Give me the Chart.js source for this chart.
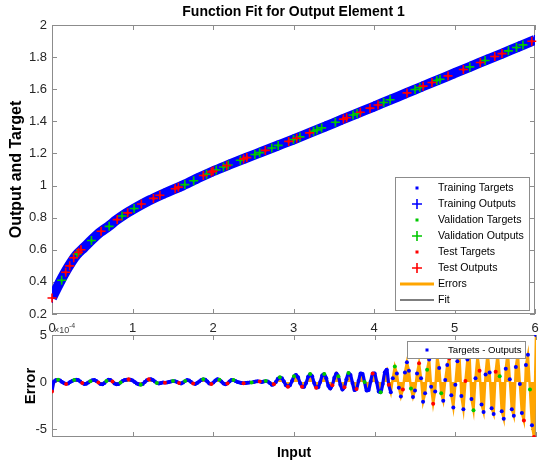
<!DOCTYPE html>
<html>
<head>
<meta charset="utf-8">
<script src="https://cdn.jsdelivr.net/npm/chart.js@4.4.0/dist/chart.umd.min.js"></script>
<style>
  html, body { margin: 0; padding: 0; background: #fff; }
  #wrap { position: relative; width: 542px; height: 462px; overflow: hidden; }
  #fitBox { position: absolute; left: 0; top: 0; }
  #errBox { position: absolute; left: 0; top: 328px; }
</style>
</head>
<body>
<div id="wrap">
  <div id="errBox"><canvas id="errChart" width="542" height="134"></canvas></div>
  <div id="fitBox"><canvas id="fitChart" width="542" height="342"></canvas></div>
</div>
<script>
// axis ticks
const xTicks = [0, 1, 2, 3, 4, 5, 6];
const fitTicks = [0.2, 0.4, 0.6, 0.8, 1, 1.2, 1.4, 1.6, 1.8, 2];
const errTicks = [-5, 0, 5];

// fitted curve
const fitX = [0, 0.1, 0.2, 0.3, 0.4, 0.5, 0.6, 0.7, 0.8, 0.9, 1.0, 1.2, 1.4, 1.6, 1.8, 2.0, 2.2, 2.4, 2.6, 2.8,
              3.0, 3.2, 3.4, 3.6, 3.8, 4.0, 4.2, 4.4, 4.6, 4.8, 5.0, 5.2, 5.4, 5.6, 5.8, 6.0];
const fitY = [0.30, 0.40, 0.49, 0.565, 0.615, 0.665, 0.71, 0.745, 0.785, 0.82, 0.85, 0.905, 0.952, 0.995, 1.043, 1.089, 1.13, 1.17, 1.209, 1.248,
              1.287, 1.328, 1.369, 1.41, 1.451, 1.492, 1.534, 1.575, 1.617, 1.658, 1.70, 1.741, 1.783, 1.824, 1.866, 1.907];

// validation samples (green)
const valX = [0.12, 0.31, 0.49, 0.71, 0.87, 1.02, 1.65, 1.76, 1.92, 2.04, 2.13, 2.19, 2.34, 2.52, 2.58, 2.73, 2.81, 3.00,
              3.08, 3.25, 3.29, 3.35, 3.52, 3.74, 3.79, 4.12, 4.20, 4.51, 4.57, 4.78, 4.82, 5.19, 5.38, 5.67, 5.77, 5.85];
const valY = [0.41, 0.573, 0.658, 0.746, 0.81, 0.857, 1.006, 1.03, 1.07, 1.097, 1.116, 1.128, 1.158, 1.193, 1.205, 1.234, 1.25, 1.287,
              1.303, 1.338, 1.347, 1.359, 1.394, 1.439, 1.449, 1.517, 1.534, 1.598, 1.611, 1.654, 1.662, 1.739, 1.779, 1.839, 1.86, 1.876];

// test samples (red)
const testX = [0, 0.17, 0.22, 0.27, 0.33, 0.36, 0.61, 0.81, 0.94, 1.11, 1.26, 1.34, 1.53, 1.57, 1.88, 1.98, 2.00, 2.17, 2.38,
               2.42, 2.65, 2.94, 3.04, 3.20, 3.62, 3.66, 3.83, 3.95, 4.05, 4.41, 4.61, 4.72, 4.92, 5.11, 5.32, 5.50, 5.59, 5.96];
const testY = [0.30, 0.46, 0.50, 0.55, 0.585, 0.60, 0.715, 0.788, 0.83, 0.885, 0.92, 0.94, 0.98, 0.99, 1.063, 1.084, 1.09, 1.124, 1.166,
               1.174, 1.219, 1.275, 1.295, 1.328, 1.414, 1.422, 1.457, 1.482, 1.502, 1.577, 1.619, 1.642, 1.683, 1.723, 1.766, 1.804, 1.822, 1.899];

// errors (targets - outputs), one sample every 0.025 input units (x 1e-4)
const errStep = 0.025;
const errY = [
  -1.0, 0.05, 0.2, 0.25, 0.15, 0.0, -0.12, -0.2, -0.15, 0.0, 0.12, 0.2, 0.25, 0.2, 0.05, -0.1, -0.2, -0.18, -0.05, 0.08,
  0.18, 0.2, 0.1, -0.05, -0.2, -0.25, -0.1, 0.1, 0.25, 0.2, 0.05, -0.15, -0.25, -0.2, -0.05, 0.1, 0.2, 0.25, 0.28, 0.25,
  0.15, 0.0, -0.15, -0.25, -0.28, -0.2, 0.0, 0.18, 0.28, 0.3, 0.2, 0.05, -0.1, -0.15, -0.1, -0.05, -0.08, -0.05, 0.0, 0.05,
  0.1, 0.08, 0.0, -0.1, -0.15, -0.05, 0.1, 0.2, 0.15, 0.0, -0.15, -0.2, -0.1, 0.05, 0.2, 0.3, 0.25, 0.05, -0.15, -0.2,
  -0.05, 0.15, 0.3, 0.25, 0.05, -0.15, -0.25, -0.15, 0.05, 0.2, 0.2, 0.1, 0.0, -0.05, -0.1, -0.12, -0.1, -0.08, -0.05, -0.05,
  0.0, 0.05, 0.08, 0.05, 0.0, 0.05, 0.1, 0.05, -0.1, -0.3, -0.25, 0.0, 0.35, 0.5, 0.4, 0.05, -0.35, -0.5, -0.35, 0.1,
  0.6, 0.75, 0.5, -0.1, -0.5, -0.5, -0.1, 0.55, 0.85, 0.6, -0.1, -0.6, -0.55, 0.0, 0.7, 0.85, 0.4, -0.4, -0.7, -0.35,
  0.45, 0.9, 0.6, -0.3, -0.8, -0.55, 0.3, 0.95, 0.75, -0.1, -0.85, -0.75, 0.1, 0.9, 0.85, 0.0, -0.9, -0.85, 0.05, 0.9,
  0.9, 0.0, -1.0, -1.1, -0.2, 1.0, 1.3, -0.3, -1.1, 0.4, 1.65, 0.9, -0.6, -1.55, -0.8, 1.0, 2.1, 1.2, -0.7, -1.6,
  -0.9, 0.9, 2.0, 0.4, -2.1, -1.2, 1.3, 2.4, -0.5, -2.3, -1.0, 2.7, 1.5, -1.2, -2.0, 0.2, 1.8, 2.5, -1.4, -2.7,
  -0.3, 2.2, 2.9, -1.5, -2.9, 0.1, 2.4, 3.0, -1.8, -3.0, 0.4, 2.75, 1.2, -2.4, -3.2, 0.8, 3.1, 1.0, -2.8, -3.4,
  1.1, 3.0, 0.6, -3.1, -3.9, 1.4, 3.2, 0.3, -2.9, -3.6, 1.6, 3.0, -0.2, -3.3, -4.1, 1.8, 2.9, -0.8, -4.6, -5.85, 5.0
];
const valIdx = [3, 11, 19, 27, 34, 44, 52, 60, 66, 75, 83, 90, 99, 106, 113, 120, 128, 135, 142, 147, 155, 163,
                170, 178, 186, 193, 202, 209, 216, 222, 231, 237];
const testIdx = [0, 7, 15, 23, 30, 38, 48, 56, 63, 70, 79, 87, 95, 103, 110, 117, 124, 131, 139, 145, 151, 159,
                 167, 174, 182, 189, 197, 205, 212, 220, 226, 234, 239];
// up to this sample the errors are sampled densely enough to read as a continuous wave
const smoothEnd = 169;

const BLUE = '#0000ff', GREEN = '#00c800', RED = '#ff0000', ORANGE = '#ffa500';
const FONT = '"Liberation Sans", Arial, Helvetica, sans-serif';

Chart.defaults.font.family = FONT;
Chart.defaults.color = '#262626';
Chart.defaults.animation = false;

function pts(xs, ys) {
    return xs.map((x, i) => ({ x: x, y: ys[i] }));
}

// box round the axes with inward tick marks, like the original figure
const framePlugin = {
    id: 'frame',
    beforeDatasetsDraw(chart) {
        const { ctx, chartArea: a, scales } = chart;
        ctx.save();
        ctx.strokeStyle = '#8c8c8c';
        ctx.lineWidth = 1;
        ctx.strokeRect(a.left + 0.5, a.top + 0.5, a.right - a.left - 1, a.bottom - a.top - 1);
        ctx.beginPath();
        scales.x.ticks.forEach(t => {
            const px = Math.round(scales.x.getPixelForValue(t.value)) + 0.5;
            ctx.moveTo(px, a.bottom); ctx.lineTo(px, a.bottom - 5);
            ctx.moveTo(px, a.top); ctx.lineTo(px, a.top + 5);
        });
        scales.y.ticks.forEach(t => {
            const py = Math.round(scales.y.getPixelForValue(t.value)) + 0.5;
            ctx.moveTo(a.left, py); ctx.lineTo(a.left + 5, py);
            ctx.moveTo(a.right, py); ctx.lineTo(a.right - 5, py);
        });
        ctx.stroke();
        ctx.restore();
    }
};

// boxed legend drawn inside the plot
const boxLegendPlugin = {
    id: 'boxLegend',
    afterDraw(chart, args, opts) {
        if (!opts.items) return;
        const ctx = chart.ctx;
        const b = opts.box;
        ctx.save();
        ctx.fillStyle = '#fff';
        ctx.fillRect(b.x, b.y, b.w, b.h);
        ctx.strokeStyle = '#8c8c8c';
        ctx.lineWidth = 1;
        ctx.strokeRect(b.x + 0.5, b.y + 0.5, b.w, b.h);
        ctx.font = b.size + 'px ' + FONT;
        ctx.textBaseline = 'middle';
        opts.items.forEach((it, i) => {
            const y = b.first + i * b.step;
            const [kind, color, text] = it;
            ctx.fillStyle = color;
            ctx.strokeStyle = color;
            if (kind === 'dot') {
                ctx.fillRect(b.mark - 1.5, y - 1.5, 3, 3);
            } else if (kind === 'plus') {
                ctx.lineWidth = 1.6;
                ctx.beginPath();
                ctx.moveTo(b.mark - 5, y); ctx.lineTo(b.mark + 5, y);
                ctx.moveTo(b.mark, y - 5); ctx.lineTo(b.mark, y + 5);
                ctx.stroke();
            } else {
                ctx.lineWidth = kind === 'bar' ? 3 : 1.2;
                ctx.beginPath();
                ctx.moveTo(b.x + 5, y); ctx.lineTo(b.text - 4, y);
                ctx.stroke();
            }
            ctx.fillStyle = '#000';
            ctx.fillText(text, b.text, y);
        });
        ctx.restore();
    }
};

// exponent of the x axis
const exponentPlugin = {
    id: 'exponent',
    afterDraw(chart, args, opts) {
        if (!opts.show) return;
        const ctx = chart.ctx;
        ctx.save();
        ctx.fillStyle = '#404040';
        ctx.textBaseline = 'alphabetic';
        ctx.font = '9px ' + FONT;
        ctx.fillText('\u00d710', 54, 333);
        ctx.font = '7px ' + FONT;
        ctx.fillText('-4', 69, 328);
        ctx.restore();
    }
};

Chart.register(framePlugin, boxLegendPlugin, exponentPlugin);

// grid hidden, tick length only used as the gap between axis and labels
const gapGrid = n => ({ display: false, drawTicks: true, tickLength: n });
const tickFont = { size: 13, lineHeight: 14 / 13 };

// ---- top panel: function fit ----
new Chart(document.getElementById('fitChart'), {
    type: 'scatter',
    data: {
        datasets: [
            { label: 'Test Outputs', data: pts(testX, testY), pointStyle: 'cross', pointRadius: 4.5,
              borderColor: RED, borderWidth: 1.6, clip: false },
            { label: 'Validation Outputs', data: pts(valX, valY), pointStyle: 'cross', pointRadius: 4.5,
              borderColor: GREEN, borderWidth: 1.6, clip: false },
            { label: 'Test Targets', data: pts(testX, testY), pointRadius: 1.5, backgroundColor: RED, borderWidth: 0 },
            { label: 'Validation Targets', data: pts(valX, valY), pointRadius: 1.5, backgroundColor: GREEN, borderWidth: 0 },
            { label: 'Training Outputs', data: pts(fitX, fitY), pointStyle: 'cross', pointRadius: 5,
              borderColor: BLUE, borderWidth: 2 },
            { label: 'Training Targets', data: pts(fitX, fitY), showLine: true, borderColor: BLUE, borderWidth: 10,
              pointRadius: 0, cubicInterpolationMode: 'monotone' },
            { label: 'Fit', data: pts(fitX, fitY), showLine: true, borderColor: '#000', borderWidth: 1, pointRadius: 0 }
        ]
    },
    options: {
        responsive: false,
        events: [],
        layout: { padding: { left: 0, right: 6, top: 0, bottom: 0 } },
        scales: {
            x: {
                type: 'linear', min: 0, max: 6,
                afterBuildTicks: s => { s.ticks = xTicks.map(v => ({ value: v })); },
                afterFit: s => { s.height = 28; },
                grid: gapGrid(7),
                border: { display: false },
                ticks: { font: { size: 13 }, padding: 0, maxRotation: 0, callback: v => String(v) }
            },
            y: {
                type: 'linear', min: 0.2, max: 2,
                afterBuildTicks: s => { s.ticks = fitTicks.map(v => ({ value: v })); },
                afterFit: s => { s.width = 52; },
                grid: gapGrid(5),
                border: { display: false },
                ticks: { font: tickFont, padding: 0, callback: v => String(+v.toFixed(1)) },
                title: { display: true, text: 'Output and Target', color: '#000',
                         font: { size: 16, weight: 'bold' }, padding: { top: 7, bottom: 0 } }
            }
        },
        plugins: {
            legend: { display: false },
            tooltip: { enabled: false },
            title: { display: true, fullSize: false, text: 'Function Fit for Output Element 1', color: '#000',
                     font: { size: 14, weight: 'bold' }, padding: { top: 4, bottom: 4.2 } },
            boxLegend: {
                box: { x: 395, y: 177, w: 134, h: 133, first: 188, step: 16, mark: 417, text: 438, size: 10.6 },
                items: [
                    ['dot', BLUE, 'Training Targets'],
                    ['plus', BLUE, 'Training Outputs'],
                    ['dot', GREEN, 'Validation Targets'],
                    ['plus', GREEN, 'Validation Outputs'],
                    ['dot', RED, 'Test Targets'],
                    ['plus', RED, 'Test Outputs'],
                    ['bar', ORANGE, 'Errors'],
                    ['line', '#000', 'Fit']
                ]
            },
            exponent: { show: true }
        }
    }
});

// ---- bottom panel: errors ----
const errX = errY.map((_, i) => +(i * errStep).toFixed(3));
const inVal = new Set(valIdx);
const inTest = new Set(testIdx);
const errPts = errY.map((y, i) => ({ x: errX[i], y: y }));
const trainErr = errPts.filter((_, i) => !inVal.has(i) && !inTest.has(i));
const valErr = errPts.filter((_, i) => inVal.has(i));
const testErr = errPts.filter((_, i) => inTest.has(i));

new Chart(document.getElementById('errChart'), {
    type: 'scatter',
    data: {
        datasets: [
            { label: 'Test', data: testErr, pointRadius: 2, backgroundColor: RED, borderWidth: 0 },
            { label: 'Validation', data: valErr, pointRadius: 2, backgroundColor: GREEN, borderWidth: 0 },
            { label: 'Targets - Outputs', data: trainErr, pointRadius: 2, backgroundColor: BLUE, borderWidth: 0 },
            { label: 'Targets - Outputs (dense)', data: errPts.slice(0, smoothEnd), showLine: true, pointRadius: 0,
              borderColor: BLUE, borderWidth: 3.2, tension: 0.35 },
            { label: 'Errors', data: errPts, showLine: true, pointRadius: 0, fill: 'origin',
              backgroundColor: ORANGE, borderColor: ORANGE, borderWidth: 2.5 }
        ]
    },
    options: {
        responsive: false,
        events: [],
        layout: { padding: { left: 0, right: 6, top: 0, bottom: 0 } },
        scales: {
            x: {
                type: 'linear', min: 0, max: 6,
                afterBuildTicks: s => { s.ticks = xTicks.map(v => ({ value: v })); },
                afterFit: s => { s.height = 25; },
                grid: { display: false, drawTicks: false },
                border: { display: false },
                ticks: { display: false },
                title: { display: true, text: 'Input', color: '#000',
                         font: { size: 14, weight: 'bold' }, padding: { top: 0, bottom: 0 } }
            },
            y: {
                type: 'linear', min: -5.85, max: 5,
                afterBuildTicks: s => { s.ticks = errTicks.map(v => ({ value: v })); },
                afterFit: s => { s.width = 52; },
                grid: gapGrid(5),
                border: { display: false },
                ticks: { font: tickFont, padding: 0, callback: v => String(v) },
                title: { display: true, text: 'Error', color: '#000',
                         font: { size: 15, weight: 'bold' }, padding: { top: 22, bottom: 0 } }
            }
        },
        plugins: {
            legend: { display: false },
            tooltip: { enabled: false },
            boxLegend: {
                box: { x: 407, y: 13, w: 118, h: 17, first: 22, step: 16, mark: 427, text: 448, size: 9.6 },
                items: [['dot', BLUE, 'Targets - Outputs']]
            }
        }
    }
});
</script>
</body>
</html>
